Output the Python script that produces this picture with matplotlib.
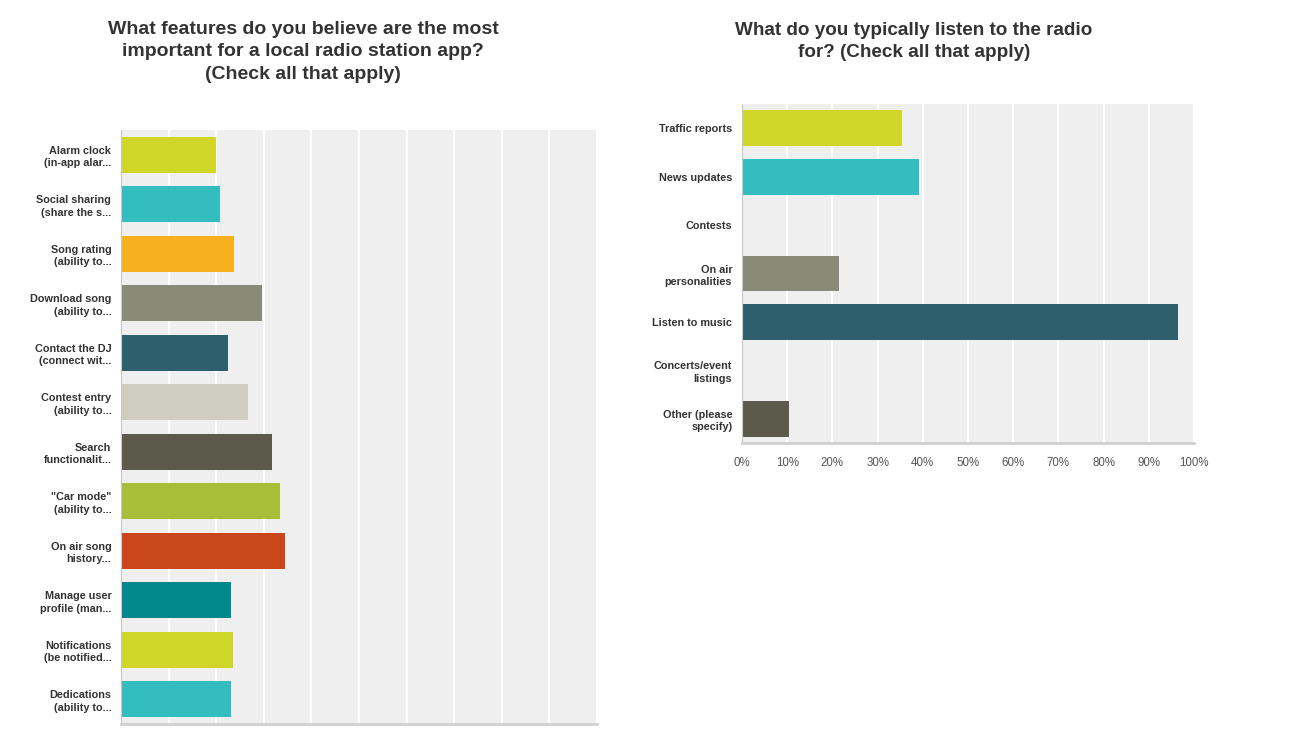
import matplotlib
matplotlib.use("Agg")
import matplotlib.pyplot as plt

plt.rcParams["font.family"] = ["Liberation Sans", "DejaVu Sans"]

# left chart: app features (percent of respondents)
FEATURES = ["Alarm clock\n(in-app alar...", "Social sharing\n(share the s...",
            "Song rating\n(ability to...", "Download song\n(ability to...",
            "Contact the DJ\n(connect wit...", "Contest entry\n(ability to...",
            "Search\nfunctionalit...", "\"Car mode\"\n(ability to...",
            "On air song\nhistory...", "Manage user\nprofile (man...",
            "Notifications\n(be notified...", "Dedications\n(ability to..."]
FEATURE_PCT = [19.9, 20.8, 23.7, 29.6, 22.5, 26.7, 31.7, 33.4, 34.4, 23.1, 23.5, 23.2]
FEATURE_COLORS = ["#cfd628", "#33bdbf", "#f7b01e", "#8a8a78", "#2e5f6d", "#cfcdc0",
                  "#5c5a4b", "#a9be38", "#c9471b", "#00888a", "#cfd628", "#33bdbf"]

# right chart: why people listen to radio
REASONS = ["Traffic reports", "News updates", "Contests", "On air\npersonalities",
           "Listen to music", "Concerts/event\nlistings", "Other (please\nspecify)"]
REASON_PCT = [35.5, 39.1, 0, 21.4, 96.4, 0, 10.5]
REASON_COLORS = ["#cfd628", "#33bdbf", "#f7b01e", "#8a8a78", "#2e5f6d", "#cfcdc0", "#5c5a4b"]
TICKS = list(range(0, 101, 10))

BG = "#efefef"
LABEL = "#333333"


def style(ax, labels):
    ax.set_facecolor(BG)
    ax.set_xlim(0, 100)
    ax.set_xticks(TICKS)
    ax.xaxis.grid(True, color="white", linewidth=1.5)
    ax.set_axisbelow(True)
    for s in ("top", "right"):
        ax.spines[s].set_visible(False)
    ax.spines["left"].set_color("#c8c8c8")
    ax.spines["bottom"].set_color("#d0d0d0")
    ax.spines["bottom"].set_linewidth(2)
    ax.set_yticks(range(len(labels)))
    ax.set_yticklabels(labels, fontsize=7.8, fontweight="bold", color=LABEL,
                       linespacing=1.3)
    ax.tick_params(axis="y", length=0, pad=7)
    ax.tick_params(axis="x", length=0)
    ax.set_ylim(len(labels) - 0.5, -0.5)


fig = plt.figure(figsize=(12.96, 7.35), dpi=100)

ax1 = fig.add_axes([121 / 1296, 11 / 735, 476 / 1296, 594 / 735])
ax1.barh(range(len(FEATURES)), FEATURE_PCT, height=0.72, color=FEATURE_COLORS)
style(ax1, FEATURES)
ax1.set_xticklabels([])

ax2 = fig.add_axes([742 / 1296, 292 / 735, 452 / 1296, 339 / 735])
ax2.barh(range(len(REASONS)), REASON_PCT, height=0.74, color=REASON_COLORS)
style(ax2, REASONS)
ax2.set_xticklabels([f"{t}%" for t in TICKS], fontsize=8.3, color="#555555")
ax2.tick_params(axis="x", pad=10)

fig.text(303 / 1296, 1 - 21 / 735,
         "What features do you believe are the most\n"
         "important for a local radio station app?\n(Check all that apply)",
         ha="center", va="top", fontsize=14, fontweight="bold",
         color=LABEL, linespacing=1.42)
fig.text(914 / 1296, 1 - 22 / 735,
         "What do you typically listen to the radio\nfor? (Check all that apply)",
         ha="center", va="top", fontsize=13.6, fontweight="bold",
         color=LABEL, linespacing=1.42)

fig.savefig("out.png", dpi=100)
